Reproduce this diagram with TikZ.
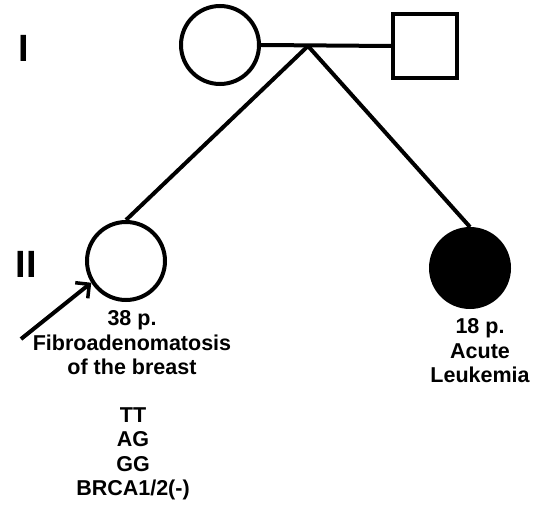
\documentclass[tikz,border=0pt]{standalone}
\usepackage{fontspec}
\setmainfont{Liberation Sans}
\usetikzlibrary{arrows.meta}
\tikzset{
  ped/.style={draw=black, line width=4pt, inner sep=0pt},
  female/.style={ped, circle, minimum size=78pt},
  male/.style={ped, rectangle, minimum size=64pt},
  link/.style={line width=4pt},
  gen/.style={font=\bfseries\fontsize{38}{40}\selectfont, inner sep=0pt},
  lbl/.style={font=\bfseries\fontsize{21.5}{24.5}\selectfont, align=center, inner sep=0pt}
}
\begin{document}
\begin{tikzpicture}[x=1pt, y=-1pt]
  \useasboundingbox (0,0) rectangle (537,505);
  % generation labels
  \node[gen] (g1) at (24,48) {I};
  \node[gen] (g2) at (26,264) {II};
  % generation I
  \node[female] (mother) at (220,45) {};
  \node[male] (father) at (425,46) {};
  \coordinate (sib) at (308,46);
  \draw[link] (mother.east) -- (father.west);
  % generation II
  \node[female] (proband) at (126,261) {};
  \node[female, fill=black] (sister) at (470,268) {};
  \draw[link] (sib) -- (proband.north);
  \draw[link] (sib) -- (sister.north);
  % proband arrow
  \coordinate (arrstart) at (21,339);
  \draw[link, -{Straight Barb[length=10pt, width=20pt, line width=3.5pt]}] (arrstart) -- (proband.212);
  % annotations
  \node[lbl] (pinfo) at (132,343) {38 p.\\Fibroadenomatosis\\of the breast};
  \node[lbl] (pgeno) at (133,454) {TT\\AG\\GG\\BRCA1/2(-)};
  \node[lbl] (sinfo) at (480,351) {18 p.\\Acute\\Leukemia};
\end{tikzpicture}
\end{document}
